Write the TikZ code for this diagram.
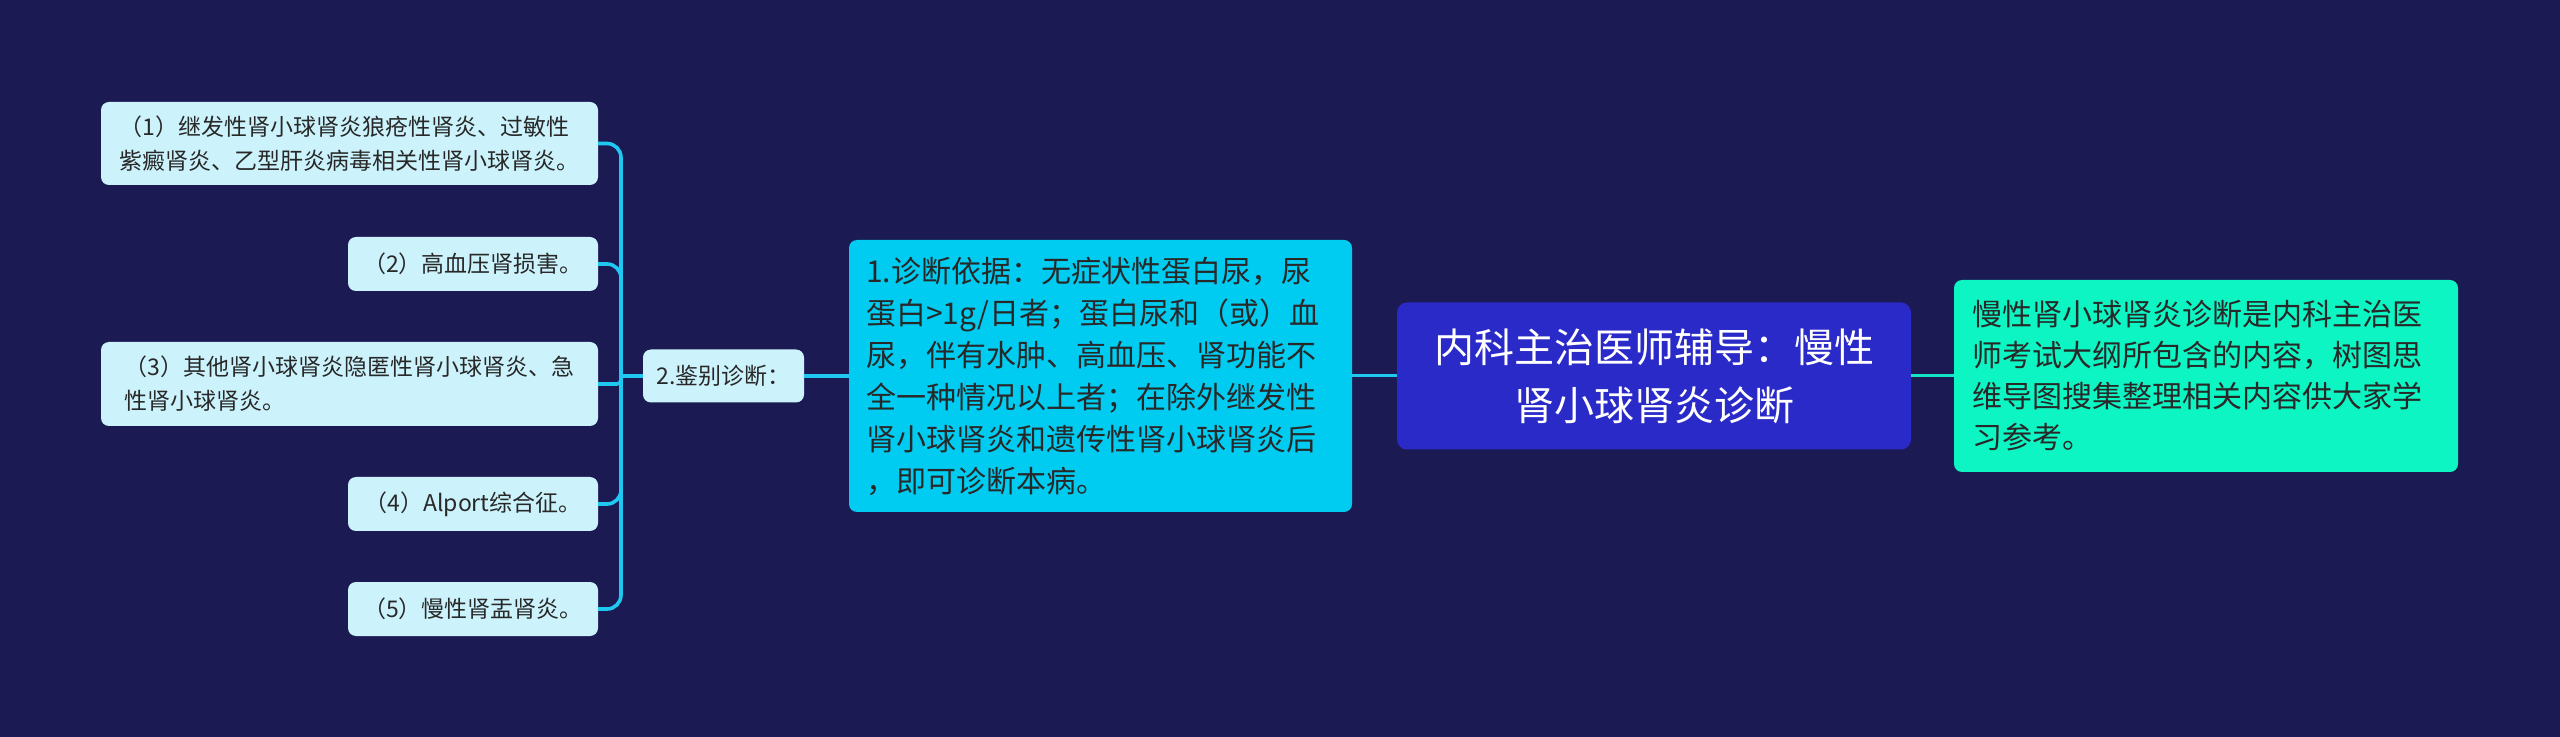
\documentclass[tikz,border=0pt]{standalone}
\usepackage{fontspec}
\newfontfamily\cjk{Noto Sans CJK SC}
\definecolor{bgnavy}{RGB}{27,26,82}
\definecolor{rootblue}{RGB}{42,42,200}
\definecolor{mainsky}{RGB}{0,204,242}
\definecolor{noteaqua}{RGB}{14,245,196}
\definecolor{leafice}{RGB}{204,243,252}
\definecolor{linksky}{RGB}{30,200,240}
\definecolor{linkaqua}{RGB}{20,228,196}
\definecolor{inkdark}{RGB}{40,40,40}

\begin{document}
\begin{tikzpicture}[x=0.5pt,y=-0.5pt,
  box/.style={rounded corners=4pt,inner sep=0pt,outer sep=0pt,align=left,text=inkdark},
  leaf/.style={box,fill=leafice,font={\cjk\fontsize{11.5}{17}\selectfont}},
  main/.style={box,fill=mainsky,inner xsep=8.5pt,text width=234.5pt,font={\cjk\fontsize{15}{21}\selectfont}},
  note/.style={box,fill=noteaqua,inner xsep=9pt,text width=234pt,font={\cjk\fontsize{15}{20.5}\selectfont}},
  root/.style={box,rounded corners=5pt,fill=rootblue,text=white,align=center,font={\cjk\fontsize{20}{29}\selectfont}},
  link/.style={draw=linksky,line width=1.8pt,rounded corners=7pt}]
        \fill[bgnavy] (0,0) rectangle (2560,737);
        \useasboundingbox (0,0) rectangle (2560,737);
        % centre and side nodes
        \node[root,minimum width=257pt,minimum height=73.5pt] (topic) at (1654,376) {内科主治医师辅导：慢性\\肾小球肾炎诊断};
        \node[note,minimum height=96pt] (intro) at (2206,376) {慢性肾小球肾炎诊断是内科主治医\\师考试大纲所包含的内容，树图思\\维导图搜集整理相关内容供大家学\\习参考。};
        \node[main,minimum height=136pt] (basis) at (1100.5,376) {1.诊断依据：无症状性蛋白尿，尿\\蛋白>1g/日者；蛋白尿和（或）血\\尿，伴有水肿、高血压、肾功能不\\全一种情况以上者；在除外继发性\\肾小球肾炎和遗传性肾小球肾炎后\\，即可诊断本病。};
        \node[leaf,minimum width=80.5pt,minimum height=26.5pt] (diff) at (723.5,376) {2.鉴别诊断：};
        % leaves
        \node[leaf,minimum width=248.5pt,minimum height=41.5pt] (d1) at (349.5,143.5) {（1）继发性肾小球肾炎狼疮性肾炎、过敏性\\紫癜肾炎、乙型肝炎病毒相关性肾小球肾炎。};
        \node[leaf,minimum width=125pt,minimum height=27pt] (d2) at (473,264) {（2）高血压肾损害。};
        \node[leaf,minimum width=248.5pt,minimum height=42pt] (d3) at (349.5,384) {（3）其他肾小球肾炎隐匿性肾小球肾炎、急\\性肾小球肾炎。};
        \node[leaf,minimum width=125pt,minimum height=27pt] (d4) at (473,504) {（4）Alport综合征。};
        \node[leaf,minimum width=125pt,minimum height=27pt] (d5) at (473,609) {（5）慢性肾盂肾炎。};
        \coordinate (fork) at (621,376);
        % connectors
        \draw[draw=linkaqua,line width=1.5pt] (topic.east) -- (intro.west);
        \draw[draw=linksky,line width=1.5pt] (topic.west) -- (basis.east);
        \draw[link] (basis.west) -- (diff.east);
        \draw[link] (diff.west) -- (fork);
        \draw[link] (fork) |- (d1.east);
        \draw[link] (fork) |- (d2.east);
        \draw[link,rounded corners=2pt] (fork) |- (d3.east);
        \draw[link] (fork) |- (d4.east);
        \draw[link] (fork) |- (d5.east);
      \end{tikzpicture}
\end{document}
